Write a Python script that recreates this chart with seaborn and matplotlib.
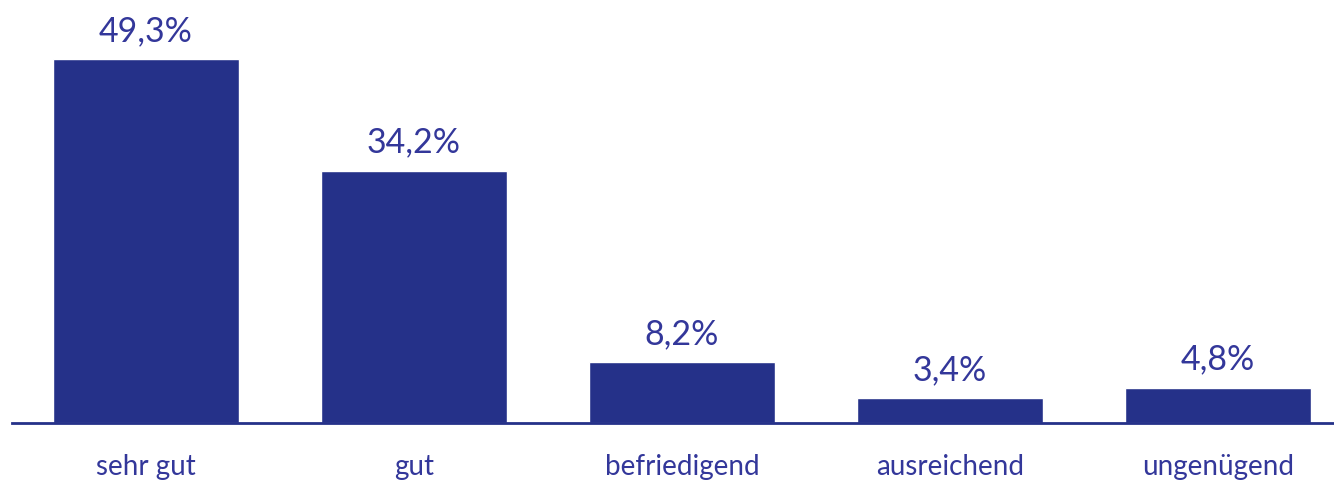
import matplotlib
matplotlib.use("Agg")
import matplotlib.pyplot as plt
import seaborn as sns
import pandas as pd

categories = ["sehr gut", "gut", "befriedigend", "ausreichend", "ungenügend"]
values = [49.3, 34.2, 8.2, 3.4, 4.8]
labels = ["49,3%", "34,2%", "8,2%", "3,4%", "4,8%"]

df = pd.DataFrame({"cat": categories, "val": values})

sns.set_style("white")
plt.rcParams['font.family'] = ['Lato', 'DejaVu Sans']

bar_color = "#253189"
text_color = "#33379a"

fig = plt.figure(figsize=(13.34, 4.83), dpi=100)
ax = fig.add_axes([12 / 1334, 60 / 483, 1322 / 1334, 423 / 483])

sns.barplot(data=df, x="cat", y="val", color=bar_color, width=0.694,
            saturation=1, ax=ax)

for i, (v, lab) in enumerate(zip(values, labels)):
    ax.text(i, v + 1.6, lab, ha="center", va="bottom",
            fontsize=24.5, color=text_color)

ax.set_xlim(-0.5, (1334 - 146) / 268)
ax.set_ylim(0, 57.3)
ax.set_xlabel("")
ax.set_ylabel("")
ax.set_yticks([])
ax.tick_params(axis="x", length=0, labelsize=20, labelcolor=text_color, pad=22)
for s in ["top", "right", "left"]:
    ax.spines[s].set_visible(False)
ax.spines["bottom"].set_color(bar_color)
ax.spines["bottom"].set_linewidth(2)

fig.savefig("out.png", dpi=100)
